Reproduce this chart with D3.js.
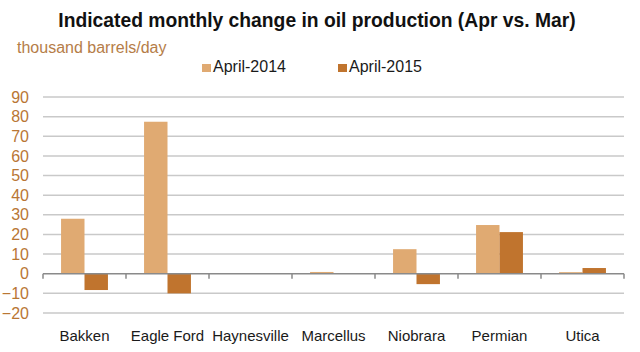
<!DOCTYPE html>
<html>
<head>
<meta charset="utf-8">
<script src="https://cdn.jsdelivr.net/npm/d3@7"></script>
<style>
  body { margin: 0; background: #fff; }
  svg text { font-family: "Liberation Sans", Arial, sans-serif; }
</style>
</head>
<body>
<svg id="chart"></svg>
<script>
const categories = ['Bakken', 'Eagle Ford', 'Haynesville', 'Marcellus', 'Niobrara', 'Permian', 'Utica'];
const seriesNames = ['April-2014', 'April-2015'];
const april2014 = [28, 77.4, 0, 0.9, 12.5, 24.8, 0.8];
const april2015 = [-8.3, -10, 0, 0, -5.3, 21.2, 2.9];
const yTicks = [-20, -10, 0, 10, 20, 30, 40, 50, 60, 70, 80, 90];
const colors = ['#e0aa72', '#c0742e'];

const width = 640, height = 352;
const margin = {top: 97, right: 16, bottom: 39, left: 43};
const inner_width = width - margin.left - margin.right;
const inner_height = height - margin.top - margin.bottom;

const svg = d3.select('#chart')
    .attr('width', width)
    .attr('height', height);

const chart = svg.append('g')
    .attr('transform', `translate(${margin.left}, ${margin.top})`);

const rows = categories.map((c, i) => ({
    category: c,
    values: [april2014[i], april2015[i]]
}));

const x0 = d3.scaleBand()
    .domain(categories)
    .range([0, inner_width])
    .paddingInner(0)
    .paddingOuter(0);

const x1 = d3.scaleBand()
    .domain(seriesNames)
    .range([0, x0.bandwidth()])
    .paddingInner(0)
    .paddingOuter(0.77);

const yscale = d3.scaleLinear()
    .domain([-20, 90])
    .range([inner_height, 0]);

// gridlines
chart.append('g')
    .selectAll('line')
    .data(yTicks.filter(t => t !== 0))
    .join('line')
    .attr('x1', 0)
    .attr('x2', inner_width)
    .attr('y1', d => yscale(d))
    .attr('y2', d => yscale(d))
    .attr('stroke', '#c9c9c9')
    .attr('stroke-width', 1.5);

// y axis labels
const yaxis = d3.axisLeft(yscale)
    .tickValues(yTicks)
    .tickSize(0)
    .tickPadding(14);

chart.append('g')
    .call(yaxis)
    .call(g => g.select('.domain').remove())
    .call(g => g.selectAll('text')
        .attr('fill', '#b97634')
        .style('font-size', '16px')
        .style('font-family', '"Liberation Sans", Arial, sans-serif'));

// bars
chart.append('g')
    .selectAll('g')
    .data(rows)
    .join('g')
    .attr('transform', d => `translate(${x0(d.category)}, 0)`)
    .selectAll('rect')
    .data(d => d.values.map((v, i) => ({series: seriesNames[i], value: v, i: i})))
    .join('rect')
    .attr('x', d => x1(d.series))
    .attr('y', d => yscale(Math.max(0, d.value)))
    .attr('width', x1.bandwidth())
    .attr('height', d => Math.abs(yscale(d.value) - yscale(0)))
    .attr('fill', d => colors[d.i]);

// zero axis with category ticks
const xaxis = d3.axisBottom(x0)
    .tickSize(0)
    .tickPadding(57);

const xg = chart.append('g')
    .attr('transform', `translate(0, ${yscale(0)})`)
    .call(xaxis);
xg.select('.domain').remove();
xg.selectAll('text')
    .attr('fill', '#1a1a1a')
    .style('font-size', '15px')
    .style('font-family', '"Liberation Sans", Arial, sans-serif');

xg.append('line')
    .attr('x1', 0)
    .attr('x2', inner_width)
    .attr('stroke', '#8a8a8a')
    .attr('stroke-width', 1.5);

xg.selectAll('.sep')
    .data(categories.map(c => x0(c)).concat([inner_width]))
    .join('line')
    .attr('class', 'sep')
    .attr('x1', d => d)
    .attr('x2', d => d)
    .attr('y1', 0)
    .attr('y2', 5)
    .attr('stroke', '#8a8a8a')
    .attr('stroke-width', 1.5);

// title
svg.append('text')
    .attr('x', 317)
    .attr('y', 27)
    .attr('text-anchor', 'middle')
    .style('font-size', '19.3px')
    .style('font-weight', 'bold')
    .attr('fill', '#111')
    .text('Indicated monthly change in oil production (Apr vs. Mar)');

svg.append('text')
    .attr('x', 17)
    .attr('y', 53)
    .style('font-size', '16px')
    .attr('fill', '#b57d48')
    .text('thousand barrels/day');

// legend
const legendX = [202, 338];
const legend = svg.append('g')
    .selectAll('g')
    .data(seriesNames)
    .join('g')
    .attr('transform', (d, i) => `translate(${legendX[i]}, 64)`);

legend.append('rect')
    .attr('width', 9)
    .attr('height', 8)
    .attr('fill', (d, i) => colors[i]);

legend.append('text')
    .attr('x', 11)
    .attr('y', 8)
    .style('font-size', '16px')
    .attr('fill', '#1a1a1a')
    .text(d => d);
</script>
</body>
</html>
